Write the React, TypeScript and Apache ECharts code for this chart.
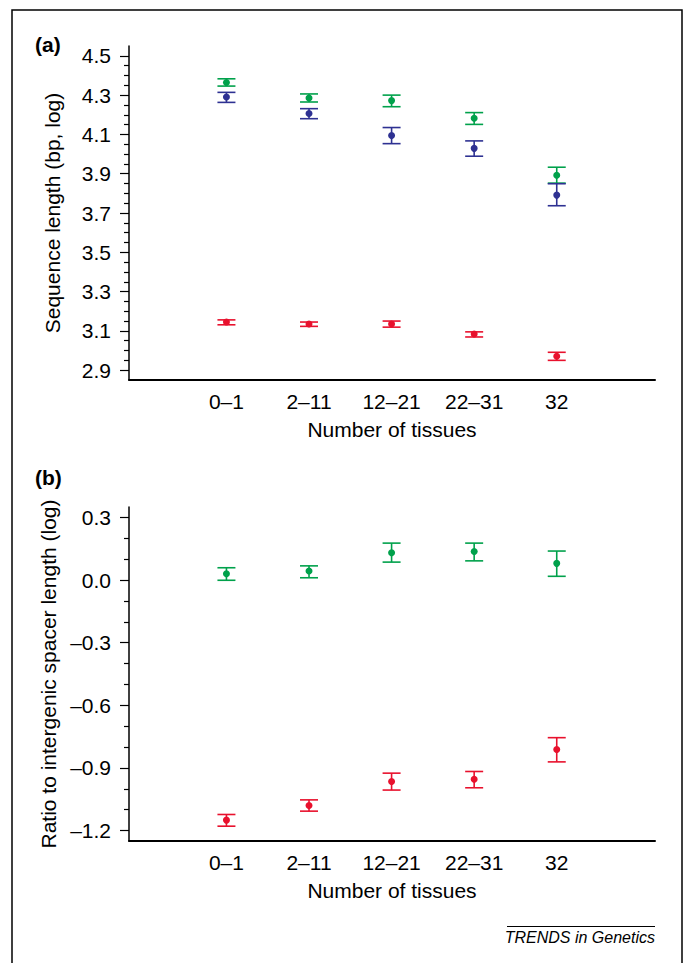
import React, { useEffect, useRef } from "react";
import * as echarts from "echarts";

// ---------- data ----------
const categories = ["0–1", "2–11", "12–21", "22–31", "32"];
const xPositions = [1, 2, 3, 4, 5];

// Panel (a): sequence length (bp, log)
const aGreenMean = [4.364, 4.285, 4.272, 4.182, 3.892];
const aGreenLow = [4.346, 4.265, 4.241, 4.151, 3.852];
const aGreenHigh = [4.383, 4.306, 4.3, 4.211, 3.933];
const aBlueMean = [4.29, 4.206, 4.094, 4.029, 3.791];
const aBlueLow = [4.263, 4.18, 4.053, 3.989, 3.737];
const aBlueHigh = [4.314, 4.231, 4.135, 4.067, 3.849];
const aRedMean = [3.145, 3.135, 3.135, 3.084, 2.971];
const aRedLow = [3.131, 3.123, 3.119, 3.069, 2.95];
const aRedHigh = [3.156, 3.145, 3.15, 3.095, 2.991];

// Panel (b): ratio to intergenic spacer length (log)
const bGreenMean = [0.03, 0.043, 0.131, 0.137, 0.08];
const bGreenLow = [-0.001, 0.011, 0.086, 0.092, 0.018];
const bGreenHigh = [0.059, 0.068, 0.177, 0.177, 0.139];
const bRedMean = [-1.15, -1.08, -0.965, -0.954, -0.812];
const bRedLow = [-1.179, -1.107, -1.006, -0.995, -0.871];
const bRedHigh = [-1.123, -1.053, -0.925, -0.917, -0.755];

// ticks
const aMajorTicks = [2.9, 3.1, 3.3, 3.5, 3.7, 3.9, 4.1, 4.3, 4.5];
const aMinorTicks = [
  2.95, 3.0, 3.05, 3.15, 3.2, 3.25, 3.35, 3.4, 3.45, 3.55, 3.6, 3.65, 3.75, 3.8,
  3.85, 3.95, 4.0, 4.05, 4.15, 4.2, 4.25, 4.35, 4.4, 4.45,
];
const bMajorTicks = [-1.2, -0.9, -0.6, -0.3, 0, 0.3];
const bMinorTicks = [-1.1, -1.0, -0.8, -0.7, -0.5, -0.4, -0.2, -0.1, 0.1, 0.2];

const GREEN = "#00a14b";
const BLUE = "#2e3192";
const RED = "#e8112d";
const FONT = "'Liberation Sans', Arial, Helvetica, sans-serif";
const FS = 21;

function build(mean: number[], low: number[], high: number[]) {
  return xPositions.map((x, i) => [x, mean[i], low[i], high[i]]);
}

function errSeries(name: string, idx: number, color: string, data: number[][]) {
  return {
    type: "custom",
    name,
    xAxisIndex: idx,
    yAxisIndex: idx * 2,
    data,
    encode: { x: 0, y: [1, 2, 3] },
    renderItem: (params: any, api: any) => {
      const x = api.value(0);
      const pm = api.coord([x, api.value(1)]);
      const pl = api.coord([x, api.value(2)]);
      const ph = api.coord([x, api.value(3)]);
      const hw = 9;
      const st = { stroke: color, lineWidth: 1.6 };
      return {
        type: "group",
        children: [
          { type: "line", shape: { x1: pl[0], y1: pl[1], x2: ph[0], y2: ph[1] }, style: st },
          { type: "line", shape: { x1: pl[0] - hw, y1: pl[1], x2: pl[0] + hw, y2: pl[1] }, style: st },
          { type: "line", shape: { x1: ph[0] - hw, y1: ph[1], x2: ph[0] + hw, y2: ph[1] }, style: st },
          { type: "circle", shape: { cx: pm[0], cy: pm[1], r: 3.5 }, style: { fill: color } },
        ],
      };
    },
  };
}

const fmt = (v: number) => {
  const s = Math.abs(v).toFixed(1);
  return v < -1e-9 ? "–" + s : s;
};

function xAxisCfg(idx: number) {
  return {
    type: "value",
    gridIndex: idx,
    position: "bottom",
    min: -0.18,
    max: 6.19,
    axisLine: { show: true, onZero: false, lineStyle: { color: "#000", width: 2 } },
    axisTick: { show: false },
    splitLine: { show: false },
    axisLabel: {
      customValues: xPositions,
      formatter: (v: number) => categories[Math.round(v) - 1] ?? "",
      color: "#000",
      fontSize: FS,
      fontFamily: FONT,
      margin: 11,
    },
    name: "Number of tissues",
    nameLocation: "middle",
    nameGap: 39,
    nameTextStyle: { color: "#000", fontSize: FS, fontFamily: FONT },
  };
}

function yAxisMajor(idx: number, min: number, max: number, ticks: number[], name: string) {
  return {
    type: "value",
    gridIndex: idx,
    position: "left",
    offset: 0,
    min,
    max,
    axisLine: { show: true, onZero: false, lineStyle: { color: "#000", width: 1.5 } },
    axisTick: { show: true, customValues: ticks, length: 9, lineStyle: { color: "#000", width: 1.2 } },
    splitLine: { show: false },
    axisLabel: {
      customValues: ticks,
      formatter: fmt,
      color: "#000",
      fontSize: FS,
      fontFamily: FONT,
      margin: 18,
    },
    name,
    nameLocation: "middle",
    nameGap: 66,
    nameTextStyle: { color: "#000", fontSize: FS, fontFamily: FONT },
  };
}

function yAxisMinor(idx: number, min: number, max: number, ticks: number[]) {
  return {
    type: "value",
    gridIndex: idx,
    position: "left",
    offset: 0,
    min,
    max,
    axisLine: { show: false, onZero: false },
    axisTick: { show: true, customValues: ticks, length: 5, lineStyle: { color: "#000", width: 1.2 } },
    axisLabel: { show: false },
    splitLine: { show: false },
  };
}

export default function App() {
  const ref = useRef<HTMLDivElement>(null);
  useEffect(() => {
    if (!ref.current) return;
    const chart = echarts.init(ref.current, null, { renderer: "svg" });
    chart.setOption({
      animation: false,
      backgroundColor: "#fff",
      grid: [
        { left: 129, top: 46, width: 526, height: 334, containLabel: false, outerBoundsMode: "none" },
        { left: 129, top: 507, width: 526, height: 334, containLabel: false, outerBoundsMode: "none" },
      ],
      xAxis: [xAxisCfg(0), xAxisCfg(1)],
      yAxis: [
        yAxisMajor(0, 2.85, 4.55, aMajorTicks, "Sequence length (bp, log)"),
        yAxisMinor(0, 2.85, 4.55, aMinorTicks),
        yAxisMajor(1, -1.25, 0.35, bMajorTicks, "Ratio to intergenic spacer length (log)"),
        yAxisMinor(1, -1.25, 0.35, bMinorTicks),
      ],
      series: [
        errSeries("a-green", 0, GREEN, build(aGreenMean, aGreenLow, aGreenHigh)),
        errSeries("a-blue", 0, BLUE, build(aBlueMean, aBlueLow, aBlueHigh)),
        errSeries("a-red", 0, RED, build(aRedMean, aRedLow, aRedHigh)),
        errSeries("b-green", 1, GREEN, build(bGreenMean, bGreenLow, bGreenHigh)),
        errSeries("b-red", 1, RED, build(bRedMean, bRedLow, bRedHigh)),
      ],
      graphic: [
        {
          type: "rect",
          shape: { x: 12, y: 10, width: 670, height: 1000 },
          style: { fill: "none", stroke: "#000", lineWidth: 1.5 },
          silent: true,
        },
        {
          type: "text",
          x: 35,
          y: 34,
          style: { text: "(a)", font: `bold 21px ${FONT}`, fill: "#000", verticalAlign: "top" },
        },
        {
          type: "text",
          x: 35,
          y: 467,
          style: { text: "(b)", font: `bold 21px ${FONT}`, fill: "#000", verticalAlign: "top" },
        },
        {
          type: "line",
          shape: { x1: 507, y1: 926.5, x2: 655, y2: 926.5 },
          style: { stroke: "#000", lineWidth: 1 },
        },
        {
          type: "text",
          x: 655,
          y: 929,
          style: {
            text: "TRENDS in Genetics",
            font: `italic 16px ${FONT}`,
            fill: "#000",
            align: "right",
            verticalAlign: "top",
          },
        },
      ],
    });
    return () => chart.dispose();
  }, []);
  return (
    <div
      ref={ref}
      style={{ position: "fixed", left: 0, top: 0, width: 683, height: 963, background: "#fff" }}
    />
  );
}
